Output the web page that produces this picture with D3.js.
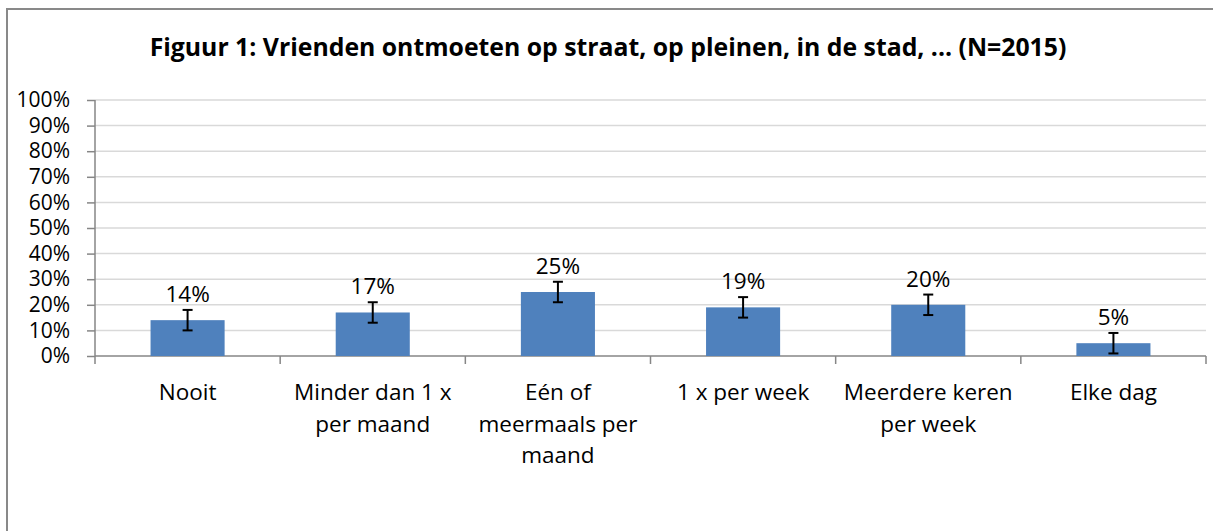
<!DOCTYPE html>
<html>
<head>
<meta charset="utf-8">
<script src="https://cdn.jsdelivr.net/npm/d3@7"></script>
<style>
    body { margin: 0; background: #fff; }
    text { font-family: "Open Sans", sans-serif; fill: #000; }
</style>
</head>
<body>
<div id="chart"></div>
<script>
// chart data
const title = "Figuur 1: Vrienden ontmoeten op straat, op pleinen, in de stad, ... (N=2015)";
const categories = ["Nooit", "Minder dan 1 x\nper maand", "Eén of\nmeermaals per\nmaand", "1 x per week", "Meerdere keren\nper week", "Elke dag"];
const values = [14, 17, 25, 19, 20, 5];
const errorMargins = [4, 4, 4, 4, 4, 4];
const yTicks = [0, 10, 20, 30, 40, 50, 60, 70, 80, 90, 100];

const width = 1213;
const height = 531;
const margin = { top: 100, right: 7, bottom: 175, left: 95 };
const axisColor = "#868686";
const fontSize = "22.5px";

const svg = d3.select("#chart")
    .append("svg")
    .attr("width", width)
    .attr("height", height);

// outer frame (only left and top edges are visible)
svg.append("path")
    .attr("d", `M7,${height} V9 H${width}`)
    .attr("fill", "none")
    .attr("stroke", "#898989")
    .attr("stroke-width", 2);

svg.append("text")
    .attr("x", 608)
    .attr("y", 56)
    .attr("text-anchor", "middle")
    .style("font-size", "24.8px")
    .style("font-weight", "bold")
    .text(title);

const x = d3.scaleBand()
    .domain(categories)
    .range([margin.left, width - margin.right])
    .paddingInner(0.6)
    .paddingOuter(0.3);

const y = d3.scaleLinear()
    .domain([0, 100])
    .range([height - margin.bottom, margin.top]);

// gridlines
svg.append("g")
    .selectAll("line")
    .data(yTicks.filter(d => d > 0))
    .enter()
    .append("line")
    .attr("x1", margin.left)
    .attr("x2", width - margin.right)
    .attr("y1", d => y(d))
    .attr("y2", d => y(d))
    .attr("stroke", "#d9d9d9")
    .attr("stroke-width", 1.5);

// y axis
const yAxis = d3.axisLeft(y)
    .tickValues(yTicks)
    .tickFormat(d => d + "%")
    .tickSize(8)
    .tickPadding(17);

const yAxisG = svg.append("g")
    .attr("transform", `translate(${margin.left},0)`)
    .call(yAxis);
yAxisG.select(".domain").remove();
yAxisG.selectAll("line").attr("stroke", axisColor).attr("stroke-width", 1.5);
yAxisG.selectAll("text")
    .style("font-size", "21px")
    .style("font-family", "'Open Sans', sans-serif")
    .attr("fill", "#000");

svg.append("line")
    .attr("x1", margin.left)
    .attr("x2", margin.left)
    .attr("y1", y(100))
    .attr("y2", y(0) + 8)
    .attr("stroke", axisColor)
    .attr("stroke-width", 1.5);

// x axis
svg.append("line")
    .attr("x1", margin.left)
    .attr("x2", width - margin.right)
    .attr("y1", y(0))
    .attr("y2", y(0))
    .attr("stroke", axisColor)
    .attr("stroke-width", 1.5);

const half = (x.step() - x.bandwidth()) / 2;
const boundaries = categories.map(c => x(c) + x.bandwidth() + half);

svg.append("g")
    .selectAll("line")
    .data(boundaries)
    .enter()
    .append("line")
    .attr("x1", d => d)
    .attr("x2", d => d)
    .attr("y1", y(0))
    .attr("y2", y(0) + 8)
    .attr("stroke", axisColor)
    .attr("stroke-width", 1.5);

// category labels, one tspan per line
const catLabels = svg.append("g")
    .selectAll("text")
    .data(categories)
    .enter()
    .append("text")
    .attr("text-anchor", "middle")
    .attr("x", d => x(d) + x.bandwidth() / 2)
    .attr("y", 400)
    .style("font-size", fontSize);

catLabels.selectAll("tspan")
    .data(d => d.split("\n").map(line => ({ line, cx: x(d) + x.bandwidth() / 2 })))
    .enter()
    .append("tspan")
    .attr("x", d => d.cx)
    .attr("dy", (d, i) => i === 0 ? 0 : 31.5)
    .text(d => d.line);

// bars
const data = categories.map((c, i) => ({ cat: c, value: values[i], err: errorMargins[i] }));

svg.append("g")
    .selectAll("rect")
    .data(data)
    .enter()
    .append("rect")
    .attr("x", d => x(d.cat))
    .attr("width", x.bandwidth())
    .attr("y", d => y(d.value))
    .attr("height", d => y(0) - y(d.value))
    .attr("fill", "#4f81bd");

// error bars
const errG = svg.append("g")
    .attr("stroke", "#000")
    .attr("stroke-width", 2);

data.forEach(d => {
    const cx = x(d.cat) + x.bandwidth() / 2;
    errG.append("line")
        .attr("x1", cx).attr("x2", cx)
        .attr("y1", y(d.value + d.err)).attr("y2", y(d.value - d.err));
    [d.value + d.err, d.value - d.err].forEach(v => {
        errG.append("line")
            .attr("x1", cx - 5).attr("x2", cx + 5)
            .attr("y1", y(v)).attr("y2", y(v));
    });
});

// data labels
svg.append("g")
    .selectAll("text")
    .data(data)
    .enter()
    .append("text")
    .attr("text-anchor", "middle")
    .attr("x", d => x(d.cat) + x.bandwidth() / 2)
    .attr("y", d => y(d.value + d.err) - 8)
    .style("font-size", fontSize)
    .text(d => d.value + "%");
</script>
</body>
</html>
